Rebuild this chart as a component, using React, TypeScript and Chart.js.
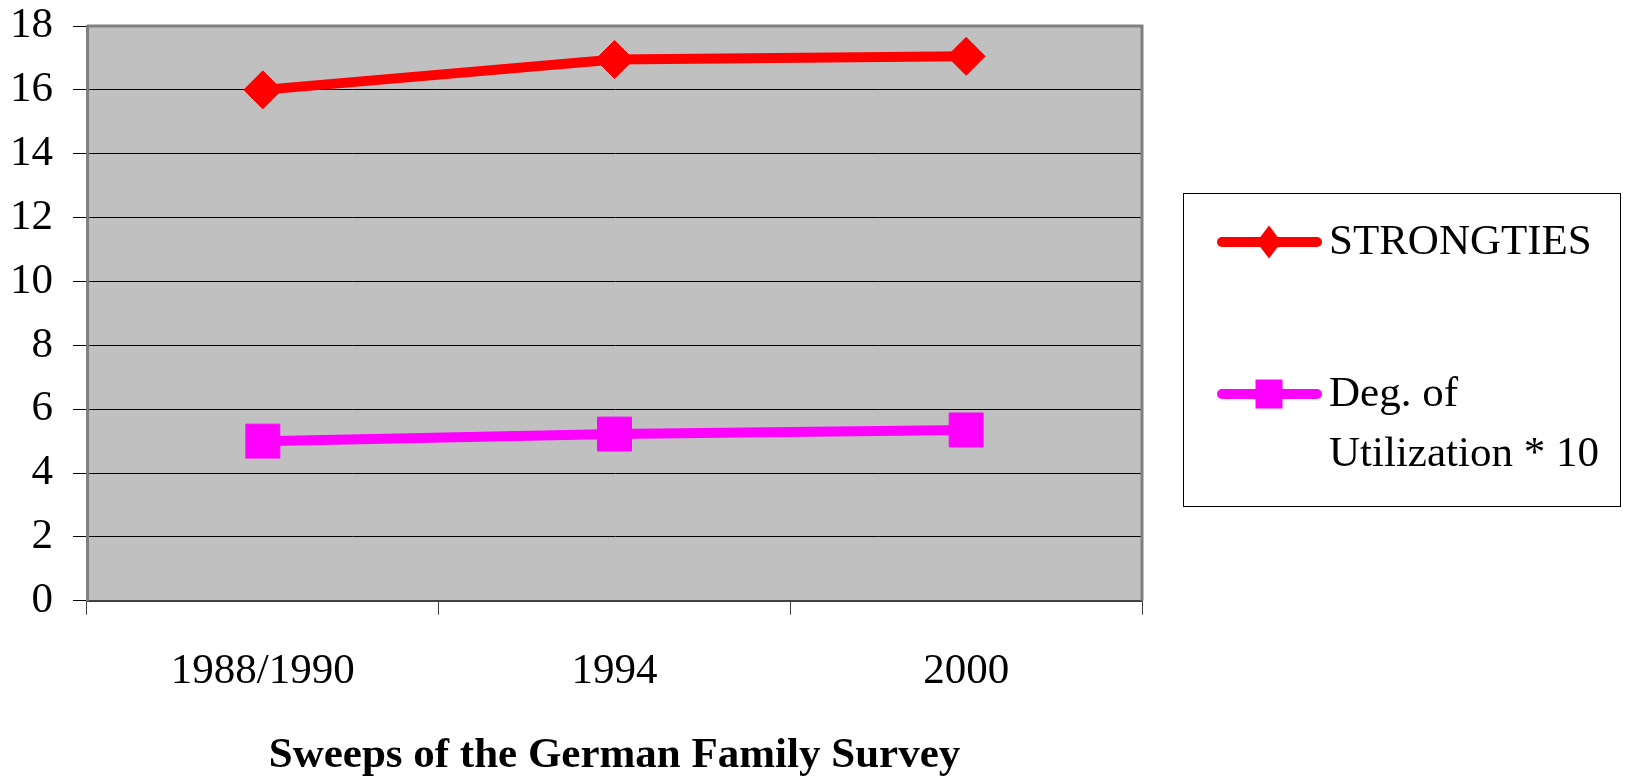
import React, { useEffect, useRef } from "react";
import { Chart, registerables } from "chart.js";

Chart.register(...registerables);

const categories = ["1988/1990", "1994", "2000"];
const strongTies = [16.0, 16.95, 17.05];
const utilization = [5.0, 5.22, 5.35];
const seriesLabels = ["STRONGTIES", ["Deg. of", "Utilization * 10"]];
const xTitle = "Sweeps of the German Family Survey";
const yMin = 0;
const yMax = 18;
const yStep = 2;

const FONT = '"Liberation Serif", "Times New Roman", serif';
const RED = "#FF0000";
const MAGENTA = "#FF00FF";

const plotDecor = {
  id: "plotDecor",
  beforeDraw(chart: any) {
    const { ctx, chartArea: a } = chart;
    ctx.save();
    ctx.fillStyle = "#C0C0C0";
    ctx.fillRect(a.left, a.top, a.right - a.left, a.bottom - a.top);
    ctx.restore();
  },
  beforeDatasetsDraw(chart: any) {
    const { ctx, chartArea: a } = chart;
    ctx.save();
    ctx.strokeStyle = "#808080";
    ctx.lineWidth = 3;
    ctx.beginPath();
    ctx.moveTo(a.left, a.top);
    ctx.lineTo(a.right, a.top);
    ctx.lineTo(a.right, a.bottom);
    ctx.stroke();
    ctx.restore();
  },
  afterDraw(chart: any) {
    const { ctx } = chart;
    const bx = 1183, by = 193, bw = 437, bh = 313;
    ctx.save();
    ctx.fillStyle = "#FFFFFF";
    ctx.fillRect(bx, by, bw, bh);
    ctx.strokeStyle = "#000000";
    ctx.lineWidth = 1;
    ctx.strokeRect(bx + 0.5, by + 0.5, bw, bh);
    ctx.font = `43px ${FONT}`;
    ctx.textBaseline = "middle";
    ctx.textAlign = "left";
    const items = chart.data.datasets.map((ds: any, i: number) => ({
      ds,
      lines: Array.isArray(ds.label) ? ds.label : [ds.label],
      y: i === 0 ? 242 : 394,
    }));
    items.forEach((it: any) => {
      const c = it.ds.borderColor;
      ctx.strokeStyle = c;
      ctx.lineWidth = 10;
      ctx.lineCap = "round";
      ctx.beginPath();
      ctx.moveTo(1222, it.y);
      ctx.lineTo(1317, it.y);
      ctx.stroke();
      ctx.fillStyle = c;
      const cx = 1269;
      if (it.ds.pointStyle === "rectRot") {
        ctx.beginPath();
        ctx.moveTo(cx, it.y - 16.5);
        ctx.lineTo(cx + 12.5, it.y);
        ctx.lineTo(cx, it.y + 16.5);
        ctx.lineTo(cx - 12.5, it.y);
        ctx.closePath();
        ctx.fill();
      } else {
        ctx.fillRect(cx - 13.5, it.y - 14.5, 27, 29);
      }
      ctx.fillStyle = "#000000";
      it.lines.forEach((ln: string, k: number) => {
        ctx.fillText(ln, 1329, it.y + 1 + k * 60);
      });
    });
    ctx.restore();
  },
};

function App() {
  const ref = useRef<HTMLCanvasElement>(null);
  useEffect(() => {
    if (!ref.current) return;
    const chart = new Chart(ref.current, {
      type: "line",
      data: {
        labels: categories,
        datasets: [
          {
            label: seriesLabels[0] as any,
            data: strongTies,
            borderColor: RED,
            backgroundColor: RED,
            borderWidth: 10,
            pointStyle: "rectRot",
            pointRadius: 19,
            pointBorderWidth: 1,
            pointBackgroundColor: RED,
            pointBorderColor: RED,
            tension: 0,
          },
          {
            label: seriesLabels[1] as any,
            data: utilization,
            borderColor: MAGENTA,
            backgroundColor: MAGENTA,
            borderWidth: 10,
            pointStyle: "rect",
            pointRadius: 24,
            pointBorderWidth: 1,
            pointBackgroundColor: MAGENTA,
            pointBorderColor: MAGENTA,
            tension: 0,
          },
        ],
      },
      options: {
        responsive: false,
        animation: false,
        events: [],
        layout: { padding: { left: 10, right: 486, top: 0, bottom: 0 } },
        plugins: {
          legend: { display: false },
          tooltip: { enabled: false },
        },
        scales: {
          x: {
            offset: true,
            grid: {
              display: true,
              offset: true,
              drawOnChartArea: false,
              drawTicks: true,
              tickLength: 14,
              color: "#404040",
              tickColor: "#404040",
              lineWidth: 1,
            },
            border: { display: true, color: "#404040", width: 2 },
            ticks: {
              color: "#000000",
              font: { family: FONT, size: 43 },
              padding: 31,
              maxRotation: 0,
              autoSkip: false,
            },
            title: {
              display: true,
              text: xTitle,
              color: "#000000",
              font: { family: FONT, size: 43, weight: "bold" },
              padding: { top: 2, bottom: 0 },
            },
          },
          y: {
            min: yMin,
            max: yMax,
            afterFit(scale: any) {
              scale.width = 77;
              scale.paddingTop = 26;
            },
            grid: {
              color: "#000000",
              tickColor: "#000000",
              lineWidth: 1,
              tickLength: 14,
              drawTicks: true,
            },
            border: { display: true, color: "#808080", width: 3 },
            ticks: {
              stepSize: yStep,
              color: "#000000",
              font: { family: FONT, size: 43 },
              padding: 20,
            },
          },
        },
      },
      plugins: [plotDecor],
    });
    return () => chart.destroy();
  }, []);
  return (
    <div style={{ position: "fixed", left: 0, top: 0, width: 1628, height: 782, background: "#FFFFFF" }}>
      <canvas ref={ref} width={1628} height={782} style={{ display: "block" }} />
    </div>
  );
}

export default App;
